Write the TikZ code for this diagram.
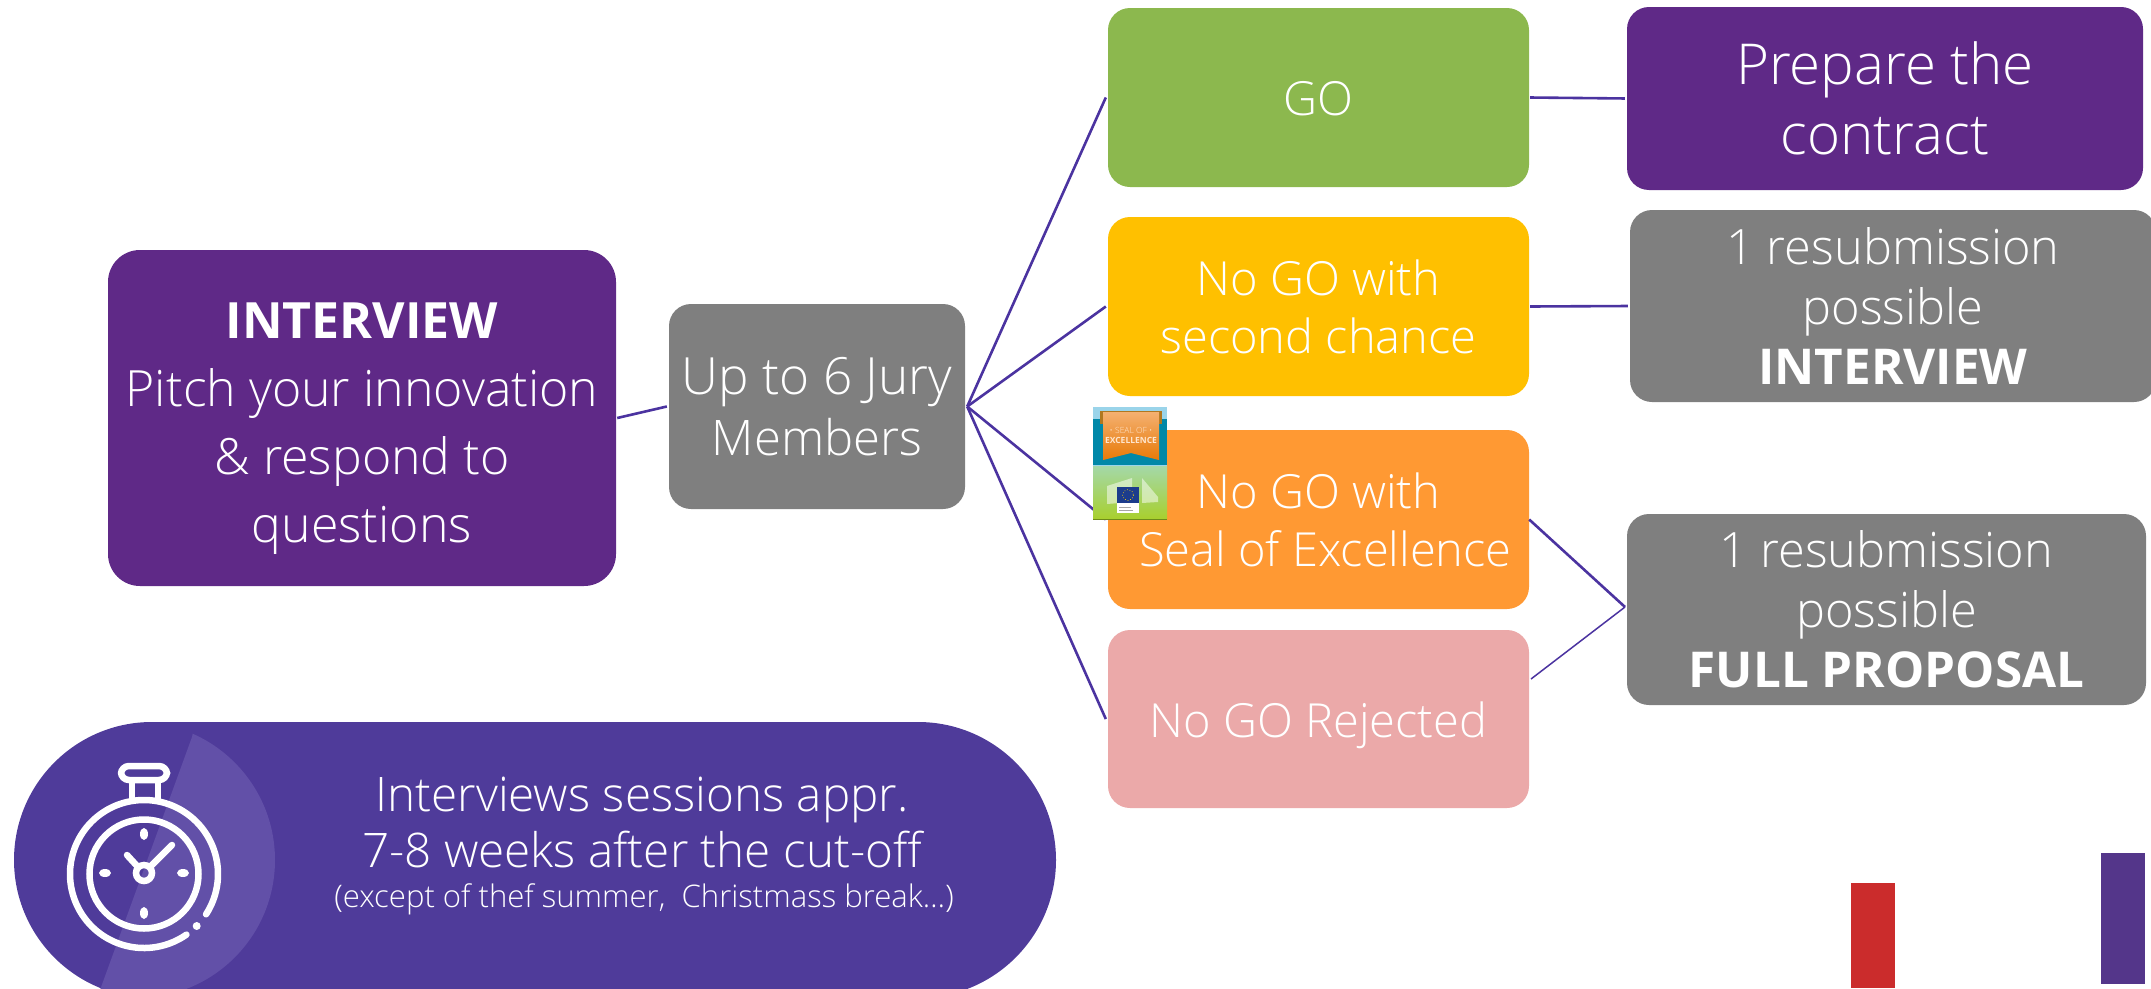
\documentclass[tikz,border=0pt]{standalone}
\usepackage{fontspec}
\setmainfont{Open Sans Light}[BoldFont={Open Sans Bold}]
\usetikzlibrary{calc}
\definecolor{cpurple}{HTML}{5F2987}
\definecolor{cgray}{HTML}{7F7F7F}
\definecolor{cgreen}{HTML}{8CB84E}
\definecolor{cyellow}{HTML}{FFC000}
\definecolor{corange}{HTML}{FF9933}
\definecolor{cpink}{HTML}{EBA9A9}
\definecolor{cpill}{HTML}{4F3B9A}
\definecolor{clight}{HTML}{6250A8}
\definecolor{cline}{HTML}{4B33A0}
\definecolor{cred}{HTML}{CB2C2C}
\definecolor{cbar}{HTML}{54368A}
\definecolor{csky}{HTML}{9AD4EA}
\definecolor{cteal}{HTML}{0088A8}
\definecolor{cribbon}{HTML}{E87A08}
\definecolor{cribtop}{HTML}{F4B070}
\definecolor{ccurl}{HTML}{B07820}
\definecolor{cgrtop}{HTML}{A4D8A8}
\definecolor{cgrbot}{HTML}{A8D030}
\definecolor{colive}{HTML}{6E8A1A}
\definecolor{ceu}{HTML}{1C3C8C}
\tikzset{x=1pt,y=-1pt,
 card/.style={rounded corners=22pt,text=white,align=center,inner sep=0pt,font=\fontsize{47}{59}\selectfont},
 link/.style={draw=cline,line width=2.6pt},
 tool/.style={draw=white,line width=6.5pt,line cap=round}}
\newcommand{\bx}[8]{\node[card,fill=#2,minimum width=#5-#3,minimum height=#6-#4,#8] (#1) at ({(#3+#5)/2},{(#4+#6)/2}) {#7};}
\newcommand{\bigb}[1]{{\fontsize{49.4}{60}\selectfont\textbf{#1}}}
\begin{document}
\begin{tikzpicture}
\useasboundingbox (0,0) rectangle (2151,988);
\clip (0,0) rectangle (2151,988);
% pill
\fill[cpill,rounded corners=138pt] (14,722) rectangle (1056,998);
\begin{scope}
\clip (192,737) -- (100,990) -- (400,990) -- (400,700) -- (200,700) -- cycle;
\fill[clight] (137,860) circle[radius=138];
\end{scope}
% stopwatch
\draw[tool] plot[domain=55:393,samples=90,smooth] ({144+74*cos(\x)},{874+74*sin(\x)});
\fill[white] (196.7,926) circle[radius=4];
\draw[tool] (144,874) circle[radius=54.5];
\draw[tool] (144,873) circle[radius=8];
\draw[tool,rounded corners=8pt] (121,766) rectangle (167,780);
\draw[white,line width=6pt] (132,783) -- (132,800) (158,783) -- (158,800);
\draw[tool] (150,867) -- (172,845) (138,867) -- (127,855);
\fill[white] (144,834) ellipse[x radius=4,y radius=6];
\fill[white] (144,913) ellipse[x radius=4,y radius=6];
\fill[white] (105,873) ellipse[x radius=6,y radius=4];
\fill[white] (183,873) ellipse[x radius=6,y radius=4];
% cards
\bx{iv}{cpurple}{108}{250}{616}{586}{\rule{0pt}{56pt}\textbf{INTERVIEW}\\Pitch your innovation\\\& respond to\\questions}{rounded corners=32pt,font=\fontsize{50}{68}\selectfont}
\bx{jury}{cgray}{669}{304}{965}{509}{Up to 6 Jury\\{\fontsize{49}{61}\selectfont Members}}{font=\fontsize{51.3}{61}\selectfont}
\bx{go}{cgreen}{1108}{8}{1529}{187}{\rule{0pt}{37pt}GO}{}
\bx{sec}{cyellow}{1108}{217}{1529}{396}{No GO with\\second chance}{font=\fontsize{47}{58}\selectfont}
\bx{seal}{corange}{1108}{430}{1529}{609}{No GO with\\\hspace*{14pt}Seal of Excellence}{font=\fontsize{47}{58}\selectfont}
\bx{rej}{cpink}{1108}{630}{1529}{808}{\rule{0pt}{49pt}No GO Rejected}{}
\bx{prep}{cpurple}{1627}{7}{2143}{190}{Prepare the\\contract}{font=\fontsize{56.4}{70}\selectfont}
\bx{res}{cgray}{1630}{210}{2156}{402}{1 resubmission\\possible\\\bigb{INTERVIEW}}{font=\fontsize{48.7}{60}\selectfont}
\bx{full}{cgray}{1627}{514}{2146}{705}{1 resubmission\\possible\\\bigb{FULL PROPOSAL}}{font=\fontsize{48.7}{60}\selectfont}
\coordinate (joinA) at (1625,607);
\coordinate (rejR) at (1531,679);
% links
\draw[link] (iv.east) ++(1,0) -- ([xshift=-2pt]jury.west);
\foreach \t in {go,sec,seal,rej} \draw[link] ([xshift=2pt]jury.east) -- ([xshift=-2pt]\t.west);
\draw[link,shorten <=1pt,shorten >=2pt] (go.east) -- (prep.west);
\draw[link,shorten <=1pt,shorten >=2pt] (sec.east) -- (res.west);
\draw[link] (seal.east) -- (joinA);
\draw[link,line width=1.5pt] (rejR) -- (joinA);
% seal picture
\fill[csky] (1093,407) rectangle (1167,520);
\fill[cteal] (1093,419) rectangle (1167,465);
\shade[top color=cgrtop,bottom color=cgrbot] (1093,466) rectangle (1167,518);
\fill[colive] (1093,518.5) rectangle (1167,520);
\fill[ccurl] (1100,411) rectangle (1162,424);
\shade[top color=cribtop,bottom color=cribbon] (1103,412) -- (1159,412) -- (1159,460) -- (1131,453) -- (1103,460) -- cycle;
\node[text=white!80!orange,font=\fontsize{8.5}{10}\selectfont,align=center,inner sep=0pt] (sealtxt) at (1131,435) {• SEAL OF •\\\textbf{EXCELLENCE}};
\fill[white,opacity=.5] (1107,486) -- (1132,478) -- (1132,502) -- (1107,504) -- cycle;
\fill[white,opacity=.5] (1142,478) -- (1158,497) -- (1158,502) -- (1142,503) -- cycle;
\fill[ceu] (1117,487) rectangle (1139,503);
\fill[white] (1117,503) rectangle (1139,513);
\draw[gray!70,line width=0.8pt] (1119,507) -- (1131,507) (1119,510) -- (1133,510);
\draw[yellow!70!orange,line width=0.7pt,dotted] (1128,495) circle[radius=5.5];
% bars
\fill[cred] (1851,883) rectangle (1895,988);
\fill[cbar] (2101,853) rectangle (2145,984);
% pill text
\node[text=white,align=center,inner sep=0pt,font=\fontsize{47.6}{56}\selectfont] (t1) at (642,822) {Interviews sessions appr.\\7-8 weeks after the cut-off};
\node[text=white,inner sep=0pt,font=\fontsize{31.1}{36}\selectfont] (t2) at (644,899) {(except of thef summer,\ \ Christmass break…)};
\end{tikzpicture}
\end{document}
